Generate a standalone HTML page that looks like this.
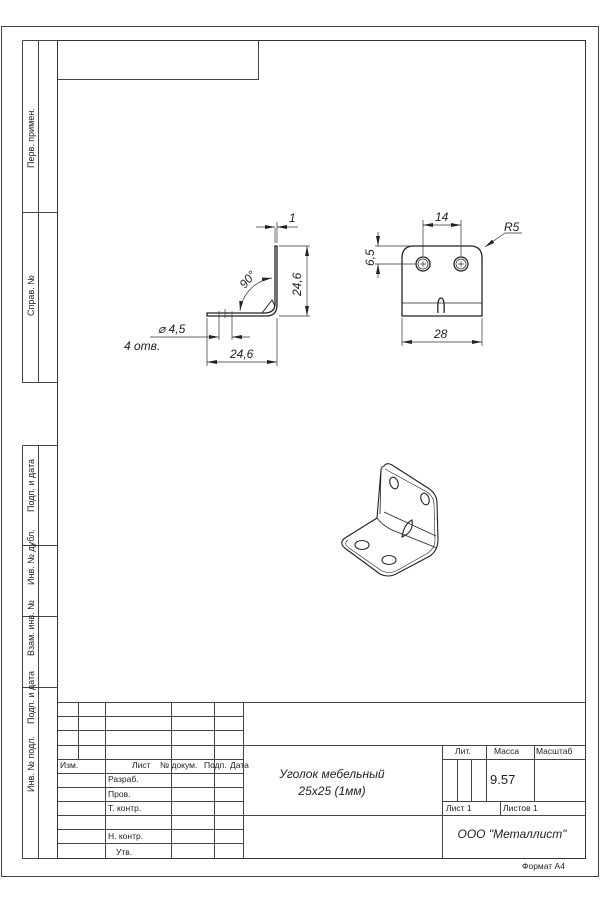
<!DOCTYPE html>
<html><head><meta charset="utf-8"><style>
html,body{margin:0;padding:0;background:#fff}
svg{display:block}
text{font-family:"Liberation Sans",sans-serif;fill:#222}
.d{font-style:italic;font-size:12px}
.t{font-size:8.5px}
.s{font-size:9px}
</style></head><body>
<svg width="600" height="900" viewBox="0 0 600 900" xmlns="http://www.w3.org/2000/svg">
<defs>
<marker id="a" viewBox="0 0 10 4" refX="10" refY="2" markerWidth="10" markerHeight="4" orient="auto-start-reverse" markerUnits="userSpaceOnUse"><path d="M0,0 L10,2 L0,4z" fill="#222"/></marker>
</defs>
<g fill="none" stroke="#444" stroke-width="1">
<rect x="1.5" y="26.5" width="597" height="850"/>
<rect x="57.5" y="40.5" width="528" height="818" stroke="#333"/>
<path d="M57.5,79.5 H258.5 V40.5"/>
<path d="M22.5,40.5 H57.5 M22.5,40.5 V382.5 H57.5 M38.5,40.5 V382.5 M22.5,212.5 H57.5"/>
<path d="M22.5,445.5 H57.5 M22.5,445.5 V858.5 H57.5 M38.5,445.5 V858.5 M22.5,545.5 H57.5 M22.5,616.5 H57.5 M22.5,687.5 H57.5"/>
<path d="M57.5,702.5 H585.5 M243.5,745.5 H585.5 M243.5,815.5 H585.5"/>
<path d="M57.5,716.5 H243.5 M57.5,730.5 H243.5 M57.5,745.5 H243.5 M57.5,759.5 H243.5 M57.5,773.5 H243.5 M57.5,787.5 H243.5 M57.5,801.5 H243.5 M57.5,815.5 H243.5 M57.5,829.5 H243.5 M57.5,843.5 H243.5"/>
<path d="M78.5,702.5 V759.5 M105.5,702.5 V858.5 M171.5,702.5 V858.5 M214.5,702.5 V858.5 M243.5,702.5 V858.5"/>
<path d="M442.5,745.5 V858.5 M442.5,759.5 H585.5 M442.5,801.5 H585.5 M457.5,759.5 V801.5 M471.5,759.5 V801.5 M486.5,745.5 V801.5 M534.5,745.5 V801.5 M500.5,801.5 V815.5"/>
</g>
<g class="t">
<text x="60" y="768">Изм.</text><text x="132" y="768">Лист</text><text x="160" y="768">№ докум.</text><text x="204" y="768">Подп.</text><text x="230" y="768">Дата</text>
<text x="108" y="782">Разраб.</text><text x="108" y="797">Пров.</text><text x="108" y="811">Т. контр.</text><text x="108" y="839">Н. контр.</text><text x="116" y="855">Утв.</text>
<text x="455" y="754">Лит.</text><text x="494" y="754">Масса</text><text x="536" y="754">Масштаб</text>
<text x="446" y="811">Лист 1</text><text x="503" y="811">Листов 1</text>
<text x="522" y="869">Формат А4</text>
</g>
<g class="s">
<text transform="translate(34,168) rotate(-90)">Перв. примен.</text>
<text transform="translate(34,316) rotate(-90)">Справ. №</text>
<text transform="translate(34,512) rotate(-90)">Подп. и дата</text>
<text transform="translate(34,585) rotate(-90)">Инв. № дубл.</text>
<text transform="translate(34,656) rotate(-90)">Взам. инв. №</text>
<text transform="translate(34,724) rotate(-90)">Подп. и дата</text>
<text transform="translate(34,792) rotate(-90)">Инв. № подл.</text>
</g>
<text x="490" y="784" font-size="13">9.57</text>
<text x="332" y="778" class="d" font-size="14" text-anchor="middle">Уголок мебельный</text>
<text x="332" y="795" class="d" font-size="14" text-anchor="middle">25x25 (1мм)</text>
<text x="512" y="838" class="d" font-size="14" text-anchor="middle">ООО "Металлист"</text>

<g fill="none" stroke="#222" stroke-width="1.3">
<path d="M275,246 H277 V305 Q277,316 266,316 H207 V313 H264 Q275,313 275,304 Z"/>
<path d="M262,313 L272,300 L275,306" stroke-width="1"/>
</g>
<g fill="none" stroke="#333" stroke-width="0.7">
<path d="M219,311 V340 M232,311 V340 M225,309 V318"/>
<path d="M275,243 V228 M277,243 V222"/>
<path d="M256,227 H275" marker-end="url(#a)"/><path d="M298,227 H277" marker-end="url(#a)"/>
<path d="M279,246 H310 M279,316 H310"/>
<path d="M307,246 V316" marker-start="url(#a)" marker-end="url(#a)"/>
<path d="M207,318 V366 M277,318 V366"/>
<path d="M207,362 H277" marker-start="url(#a)" marker-end="url(#a)"/>
<path d="M150,337 H207"/><path d="M207,337 H219" marker-end="url(#a)"/><path d="M250,337 H232" marker-end="url(#a)"/>
<path d="M240,311 A38,38 0 0 1 272,278" marker-start="url(#a)" marker-end="url(#a)"/>
</g>
<text class="d" x="289" y="222">1</text>
<text class="d" transform="translate(301,296) rotate(-90)">24,6</text>
<text class="d" x="230" y="358">24,6</text>
<text class="d" x="158" y="333">⌀ 4,5</text>
<text class="d" x="124" y="350">4 отв.</text>
<text class="d" transform="translate(245,289) rotate(-50)">90°</text>

<g fill="none" stroke="#222" stroke-width="1.3">
<path d="M402,316 V258 Q402,246 414,246 H470 Q482,246 482,258 V316 Z"/>
<path d="M402,303 H482" stroke-width="0.8"/>
<circle cx="423" cy="264" r="7"/><circle cx="461" cy="264" r="7"/>
<circle cx="423" cy="264" r="5" stroke-width="0.7"/><circle cx="461" cy="264" r="5" stroke-width="0.7"/>
<path d="M438,313 Q437,298 441,298 Q445,298 444,313"/>
</g>
<g fill="none" stroke="#333" stroke-width="0.7">
<path d="M420,264 H426 M423,261 V267 M458,264 H464 M461,261 V267"/>
<path d="M423,256 V220 M461,256 V220"/>
<path d="M423,225 H461" marker-start="url(#a)" marker-end="url(#a)"/>
<path d="M375,246 H410 M375,264 H415"/>
<path d="M378,232 V246" marker-end="url(#a)"/><path d="M378,278 V264" marker-end="url(#a)"/>
<path d="M402,318 V346 M482,318 V346"/>
<path d="M402,342 H482" marker-start="url(#a)" marker-end="url(#a)"/>
<path d="M522,233 H505 L485,247" marker-end="url(#a)"/>
</g>
<text class="d" x="435" y="221">14</text>
<text class="d" x="504" y="231">R5</text>
<text class="d" x="434" y="338">28</text>
<text class="d" transform="translate(374,266) rotate(-90)">6,5</text>

<g fill="none" stroke="#222" stroke-width="1.1">
<path d="M384,466 Q387,462 392,465 L428,488 Q437,494 437,503 L438,540 Q438,550 430,556 L396,574 Q388,578 380,574 L346,549 Q338,543 345,538 L377,518 L381,470 Q381,467 384,466 Z"/>
<path d="M385,469 L427,492 Q434,497 434,504 L435,540 Q435,548 428,553 L396,571 Q389,574 382,571 L349,548 Q343,544 348,540" stroke-width="0.6"/>
<path d="M377,518 Q382,525 392,530 L437,548 M381,470 L380,514 M384,512 L436,536" stroke-width="0.8"/>
<path d="M402,537 Q404,524 412,520 Q414,532 402,537 Z"/>
<ellipse cx="394" cy="483" rx="4" ry="6" transform="rotate(-20 394 483)"/>
<ellipse cx="425" cy="499" rx="4" ry="6" transform="rotate(-20 425 499)"/>
<ellipse cx="362" cy="545" rx="7" ry="4.5"/>
<ellipse cx="389" cy="560" rx="7" ry="4.5"/>
</g>
</svg>
</body></html>
